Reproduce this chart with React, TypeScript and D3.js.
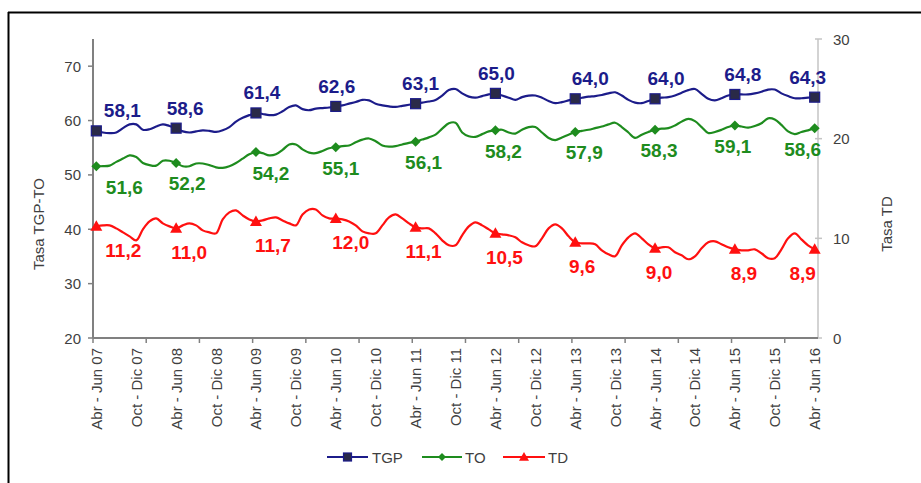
import React from "react";
import * as d3 from "d3";

const MONTHS = ["Ene", "Feb", "Mar", "Abr", "May", "Jun", "Jul", "Ago", "Sep", "Oct", "Nov", "Dic"];
const N_PERIODS = 109;
const categories: string[] = Array.from({ length: N_PERIODS }, (_, i) => {
  const s = 3 + i;
  const e = s + 2;
  const sy = String(7 + Math.floor(s / 12)).padStart(2, "0");
  const ey = String(7 + Math.floor(e / 12)).padStart(2, "0");
  return sy === ey
    ? `${MONTHS[s % 12]} - ${MONTHS[e % 12]} ${ey}`
    : `${MONTHS[s % 12]} ${sy} - ${MONTHS[e % 12]} ${ey}`;
});

const TGP = [
  58.1, 57.8, 57.7, 57.8, 58.6, 59.3, 59.3, 58.3, 58.4, 58.9, 59.3, 59.0,
  58.6, 58.0, 57.8, 58.0, 58.2, 58.1, 57.9, 58.2, 58.8, 59.8, 60.5, 61.0,
  61.4, 61.2, 61.0, 61.1, 61.7, 62.5, 62.8, 62.1, 61.9, 62.2, 62.3, 62.4,
  62.6, 62.8, 63.1, 63.4, 63.8, 63.7, 63.1, 62.8, 62.6, 62.5, 62.7, 62.9,
  63.1, 63.3, 63.5, 63.8, 64.6, 65.6, 65.8, 65.0, 64.4, 64.2, 64.5, 64.8,
  65.0, 64.6, 64.2, 63.8, 64.3, 64.6, 64.6, 64.2, 63.6, 63.2, 63.4, 63.7,
  64.0, 64.2, 64.4, 64.5, 64.7, 65.0, 65.2, 64.6, 63.8, 63.3, 63.2, 63.6,
  64.0, 64.2, 64.3, 64.6, 65.1, 65.6, 65.8, 64.9, 64.0, 63.7, 64.1, 64.6,
  64.8, 64.8, 64.8, 65.0, 65.3, 65.7, 65.7, 65.0, 64.5, 64.1, 64.1, 64.2,
  64.3,
];

const TO = [
  51.6, 51.6, 51.7, 52.4, 53.0, 53.6, 53.3, 52.2, 51.8, 51.7, 52.6, 52.6,
  52.2, 51.6, 51.6, 52.1, 52.1, 51.8, 51.4, 51.3, 51.6, 52.2, 53.0, 53.8,
  54.2, 54.0, 53.6, 53.8, 54.6, 55.6, 55.6, 54.7, 54.1, 54.0, 54.4, 54.9,
  55.1, 55.3, 55.4, 56.0, 56.5, 56.7, 56.2, 55.4, 55.2, 55.3, 55.6, 55.9,
  56.1, 56.5, 56.9, 57.4, 58.5, 59.5, 59.6, 57.8, 57.1, 57.0, 57.5, 58.0,
  58.2, 58.3, 57.8, 57.6, 58.3, 58.8, 58.8, 57.8, 56.8, 56.4, 56.9, 57.4,
  57.9, 58.1, 58.3, 58.6, 58.9, 59.3, 59.6, 58.8, 57.8, 56.8, 57.4, 57.9,
  58.3, 58.5, 58.6, 59.1, 59.8, 60.3, 59.9, 58.8, 57.7, 57.9, 58.3, 58.8,
  59.1, 58.9, 58.7, 59.0, 59.5, 60.4, 60.2, 59.2, 58.0, 57.5, 57.9, 58.2,
  58.6,
];

const TD = [
  11.2, 11.3, 11.3, 11.0, 10.6, 10.2, 9.8, 10.9, 11.7, 12.0, 11.5, 11.2,
  11.0, 11.3, 11.5, 11.3, 10.8, 10.6, 10.5, 11.9, 12.6, 12.8, 12.3, 11.9,
  11.7, 11.8, 12.0, 12.1, 11.8, 11.5, 11.3, 12.4, 12.9, 12.9, 12.3, 12.0,
  12.0, 11.9, 11.7, 11.3, 10.7, 10.5, 10.5, 11.3, 12.1, 12.4, 12.0, 11.5,
  11.1, 11.0, 11.0, 10.5, 9.8, 9.3, 9.3, 10.3, 11.2, 11.6, 11.3, 10.9,
  10.5, 10.4, 10.3, 10.1, 9.6, 9.3, 9.2, 10.0, 11.0, 11.4, 11.0, 10.2,
  9.6, 9.5, 9.5, 9.4, 8.8, 8.4, 8.2, 9.3, 10.1, 10.5, 10.0, 9.4,
  9.0, 9.1, 9.1, 8.6, 8.3, 7.9, 8.2, 9.0, 9.6, 9.7, 9.4, 9.1,
  8.9, 8.8, 8.8, 8.9, 8.5, 8.0, 8.0, 8.9, 10.0, 10.5, 9.9, 9.3,
  8.9,
];

const leftTicks = [20, 30, 40, 50, 60, 70];
const rightTicks = [0, 10, 20, 30];
const LABEL_EVERY = 6;
const TICK_EVERY = 8;
const MARK_EVERY = 12;

// layout (label offsets in px, per marked point)
const tgpDx = [26, 9, 6, 1, 5, 1, 15, 11, 8, -7];
const toDx = [28, 11, 15, 5, 8, 8, 9, 4, -2, -12];
const tdDx = [27, 13, 17, 15, 8, 9, 7, 4, 9, -12];

const W = 921;
const H = 483;
const X0 = 93;
const X1 = 818;
const Y0 = 338;
const Y1 = 39;
const FONT = "Arial, 'Liberation Sans', sans-serif";
const AXIS_TXT = "#3f3f3f";
const C_TGP = "#1c1c8a";
const C_TO = "#1e8c1e";
const C_TD = "#ff1010";

const fmt = (v: number) => v.toFixed(1).replace(".", ",");

export default function App() {
  const x = d3.scalePoint<number>().domain(d3.range(N_PERIODS)).range([X0, X1]).padding(0.5);
  const step = x.step();
  const yL = d3.scaleLinear().domain([20, 75]).range([Y0, Y1]);
  const yR = d3.scaleLinear().domain([0, 30]).range([Y0, Y1]);

  const lineL = d3
    .line<number>()
    .x((_, i) => x(i) as number)
    .y((d) => yL(d))
    .curve(d3.curveCatmullRom.alpha(0.5));
  const lineR = d3
    .line<number>()
    .x((_, i) => x(i) as number)
    .y((d) => yR(d))
    .curve(d3.curveCatmullRom.alpha(0.5));

  const markIdx = d3.range(0, N_PERIODS, MARK_EVERY);
  const tickIdx = d3.range(0, N_PERIODS + 1, TICK_EVERY);
  const labelIdx = d3.range(0, N_PERIODS, LABEL_EVERY);

  const square = (cx: number, cy: number, s: number, key: any) => (
    <rect key={key} x={cx - s / 2} y={cy - s / 2} width={s} height={s} fill="#2a2a48" stroke={C_TGP} strokeWidth={1.2} />
  );
  const diamond = (cx: number, cy: number, s: number, key: any) => (
    <path key={key} d={`M${cx},${cy - s}L${cx + s},${cy}L${cx},${cy + s}L${cx - s},${cy}Z`} fill={C_TO} />
  );
  const tri = (cx: number, cy: number, s: number, key: any) => (
    <path key={key} d={`M${cx},${cy - s}L${cx + s},${cy + s * 0.75}L${cx - s},${cy + s * 0.75}Z`} fill={C_TD} />
  );

  return (
    <svg width={W} height={H} style={{ position: "absolute", left: 0, top: 0, background: "#fff" }} fontFamily={FONT}>
      <rect x={0} y={0} width={W} height={H} fill="#fff" />
      {/* frame */}
      <line x1={8} y1={12.5} x2={W} y2={12.5} stroke="#000" strokeWidth={2} />
      <line x1={8.5} y1={12} x2={8.5} y2={H} stroke="#000" strokeWidth={2} />

      {/* left axis */}
      <line x1={X0} y1={Y1} x2={X0} y2={Y0} stroke="#808080" strokeWidth={2} />
      {leftTicks.map((t) => (
        <g key={"l" + t}>
          <line x1={X0 - 5} x2={X0} y1={yL(t)} y2={yL(t)} stroke="#808080" strokeWidth={1.5} />
          <text x={X0 - 12} y={yL(t)} textAnchor="end" dominantBaseline="central" fontSize={15} fill={AXIS_TXT}>
            {t}
          </text>
        </g>
      ))}
      <text
        transform={`translate(38,224) rotate(-90)`}
        textAnchor="middle"
        dominantBaseline="central"
        fontSize={15}
        fill={AXIS_TXT}
      >
        Tasa TGP-TO
      </text>

      {/* right axis */}
      <line x1={X1} y1={Y1} x2={X1} y2={Y0} stroke="#c4c4c4" strokeWidth={1.5} />
      {rightTicks.map((t) => (
        <g key={"r" + t}>
          <line x1={X1 - 3} x2={X1 + 4} y1={yR(t)} y2={yR(t)} stroke="#c4c4c4" strokeWidth={1.5} />
          <text x={X1 + 15} y={yR(t)} textAnchor="start" dominantBaseline="central" fontSize={15} fill={AXIS_TXT}>
            {t}
          </text>
        </g>
      ))}
      <text
        transform={`translate(886,224) rotate(-90)`}
        textAnchor="middle"
        dominantBaseline="central"
        fontSize={15}
        fill={AXIS_TXT}
      >
        Tasa TD
      </text>

      {/* x axis */}
      <line x1={X0} y1={Y0} x2={X1} y2={Y0} stroke="#808080" strokeWidth={2} />
      {tickIdx.map((k) => (
        <line key={"t" + k} x1={X0 + k * step} x2={X0 + k * step} y1={Y0} y2={Y0 + 5} stroke="#808080" strokeWidth={1.5} />
      ))}
      {labelIdx.map((i) => (
        <text
          key={"c" + i}
          transform={`translate(${x(i)},${Y0 + 10}) rotate(-90)`}
          textAnchor="end"
          dominantBaseline="central"
          fontSize={15}
          fill={AXIS_TXT}
        >
          {categories[i]}
        </text>
      ))}

      {/* lines */}
      <path d={lineL(TGP) || ""} fill="none" stroke={C_TGP} strokeWidth={2.2} />
      <path d={lineL(TO) || ""} fill="none" stroke={C_TO} strokeWidth={2.2} />
      <path d={lineR(TD) || ""} fill="none" stroke={C_TD} strokeWidth={2.2} />

      {/* markers + labels */}
      {markIdx.map((i, k) => (
        <g key={"m" + i}>
          {square(x(i) as number, yL(TGP[i]), 10, "s")}
          {diamond(x(i) as number, yL(TO[i]), 5, "d")}
          {tri(x(i) as number, yR(TD[i]), 6, "t")}
          <text x={(x(i) as number) + tgpDx[k]} y={yL(TGP[i]) - 20} textAnchor="middle" dominantBaseline="central" fontSize={19} fontWeight="bold" fill={C_TGP}>
            {fmt(TGP[i])}
          </text>
          <text x={(x(i) as number) + toDx[k]} y={yL(TO[i]) + 21} textAnchor="middle" dominantBaseline="central" fontSize={19} fontWeight="bold" fill={C_TO}>
            {fmt(TO[i])}
          </text>
          <text x={(x(i) as number) + tdDx[k]} y={yR(TD[i]) + 24} textAnchor="middle" dominantBaseline="central" fontSize={19} fontWeight="bold" fill={C_TD}>
            {fmt(TD[i])}
          </text>
        </g>
      ))}

      {/* legend */}
      <g>
        <line x1={327} x2={368} y1={457} y2={457} stroke={C_TGP} strokeWidth={2.2} />
        {square(347.5, 457, 8, "ls")}
        <text x={372} y={457} dominantBaseline="central" fontSize={15} fill={AXIS_TXT}>TGP</text>
        <line x1={422} x2={462} y1={457} y2={457} stroke={C_TO} strokeWidth={2.2} />
        {diamond(442, 457, 4, "ld")}
        <text x={465} y={457} dominantBaseline="central" fontSize={15} fill={AXIS_TXT}>TO</text>
        <line x1={503} x2={545} y1={457} y2={457} stroke={C_TD} strokeWidth={2.2} />
        {tri(524, 457, 5, "lt")}
        <text x={548} y={457} dominantBaseline="central" fontSize={15} fill={AXIS_TXT}>TD</text>
      </g>
    </svg>
  );
}
